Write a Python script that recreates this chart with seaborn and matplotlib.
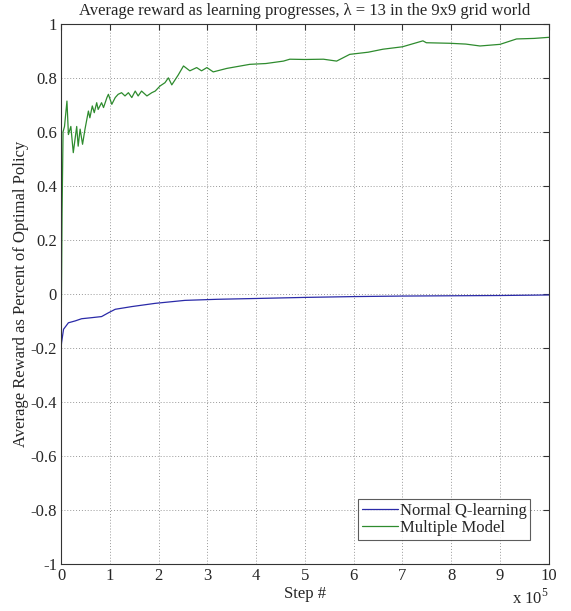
import matplotlib
matplotlib.use("Agg")
import matplotlib.pyplot as plt
from matplotlib.ticker import FuncFormatter, MultipleLocator
import seaborn as sns
import pandas as pd

# ── Data (x in units of 1e5 steps) ───────────────────────────────────────────
mm_steps = [0.0, 0.02, 0.04, 0.07, 0.12, 0.15, 0.20, 0.25, 0.32, 0.35, 0.39,
            0.44, 0.49, 0.56, 0.59, 0.64, 0.68, 0.73, 0.76, 0.83, 0.87, 0.94,
            0.97, 1.04, 1.11, 1.17, 1.24, 1.31, 1.38, 1.45, 1.52, 1.58, 1.65,
            1.76, 1.86, 1.93, 2.03, 2.13, 2.20, 2.27, 2.40, 2.51, 2.64, 2.78,
            2.88, 2.99, 3.12, 3.40, 3.87, 4.20, 4.56, 4.69, 5.00, 5.38, 5.65,
            5.92, 6.30, 6.60, 7.00, 7.42, 7.49, 7.97, 8.30, 8.59, 9.00, 9.34,
            9.70, 10.0]
mm_reward = [-0.20, 0.30, 0.60, 0.62, 0.714, 0.59, 0.62, 0.523, 0.62, 0.547,
             0.61, 0.554, 0.61, 0.677, 0.652, 0.696, 0.671, 0.708, 0.683,
             0.708, 0.69, 0.727, 0.739, 0.702, 0.727, 0.739, 0.745, 0.733,
             0.745, 0.727, 0.751, 0.733, 0.751, 0.733, 0.745, 0.751, 0.77,
             0.782, 0.80, 0.774, 0.81, 0.844, 0.826, 0.838, 0.826, 0.838,
             0.822, 0.835, 0.85, 0.853, 0.862, 0.869, 0.868, 0.869, 0.862,
             0.887, 0.895, 0.906, 0.915, 0.937, 0.930, 0.928, 0.925, 0.918,
             0.924, 0.944, 0.946, 0.95]

q_steps = [0.0, 0.01, 0.05, 0.15, 0.29, 0.42, 0.63, 0.83, 0.97, 1.11, 1.45,
           1.93, 2.54, 3.2, 4.0, 5.0, 6.0, 7.0, 8.0, 9.0, 10.0]
q_reward = [-0.20, -0.18, -0.131, -0.107, -0.10, -0.092, -0.088, -0.084,
            -0.07, -0.057, -0.047, -0.035, -0.024, -0.020, -0.017, -0.013,
            -0.010, -0.008, -0.007, -0.006, -0.004]

yticks = [1, 0.8, 0.6, 0.4, 0.2, 0, -0.2, -0.4, -0.6, -0.8, -1]

df = pd.concat([
    pd.DataFrame({"step": q_steps, "reward": q_reward, "method": "Normal Q-learning"}),
    pd.DataFrame({"step": mm_steps, "reward": mm_reward, "method": "Multiple Model"}),
])

# ── Style ────────────────────────────────────────────────────────────────────
sns.set_style("white")
plt.rcParams["font.family"] = ["Liberation Serif", "DejaVu Serif"]
plt.rcParams["axes.unicode_minus"] = False
plt.rcParams["mathtext.fontset"] = "custom"
plt.rcParams["mathtext.rm"] = "Liberation Serif"

fig = plt.figure(figsize=(5.71, 6.11), dpi=100)
ax = fig.add_axes([0.107, 0.077, 0.854, 0.884])

sns.lineplot(data=df, x="step", y="reward", hue="method", ax=ax,
             palette={"Normal Q-learning": "#2a2aa8", "Multiple Model": "#2e8b2e"},
             linewidth=0.9, estimator=None, sort=False)

ax.set_xlim(0, 10)
ax.set_ylim(-1, 1)
ax.xaxis.set_major_locator(MultipleLocator(1))
ax.set_yticks(yticks)
ax.yaxis.set_major_formatter(FuncFormatter(lambda v, _: f"{v:g}"))
ax.grid(True, color="#999999", linestyle=(0, (1, 2)), linewidth=0.7)
ax.tick_params(direction="in", length=4, top=True, right=True,
               labelsize=12, color="#333333", pad=3)
for s in ax.spines.values():
    s.set_color("#333333")
    s.set_linewidth(0.8)

ax.set_title("Average reward as learning progresses, λ = 13 in the 9x9 grid world",
             fontsize=12, pad=6)
ax.set_xlabel("Step #", fontsize=12, labelpad=1)
ax.set_ylabel("Average Reward as Percent of Optimal Policy", fontsize=12, labelpad=1)
ax.text(1.0, -0.045, r"x 10$^5$", transform=ax.transAxes, ha="right", va="top",
        fontsize=12)

leg = ax.legend(loc="lower right", bbox_to_anchor=(0.962, 0.045), fontsize=12,
                frameon=True, fancybox=False, edgecolor="#333333",
                borderpad=0.2, handlelength=2.2, handletextpad=0.1,
                labelspacing=0.1, borderaxespad=0)
leg.get_frame().set_linewidth(0.8)

fig.savefig("out.png", dpi=100)
